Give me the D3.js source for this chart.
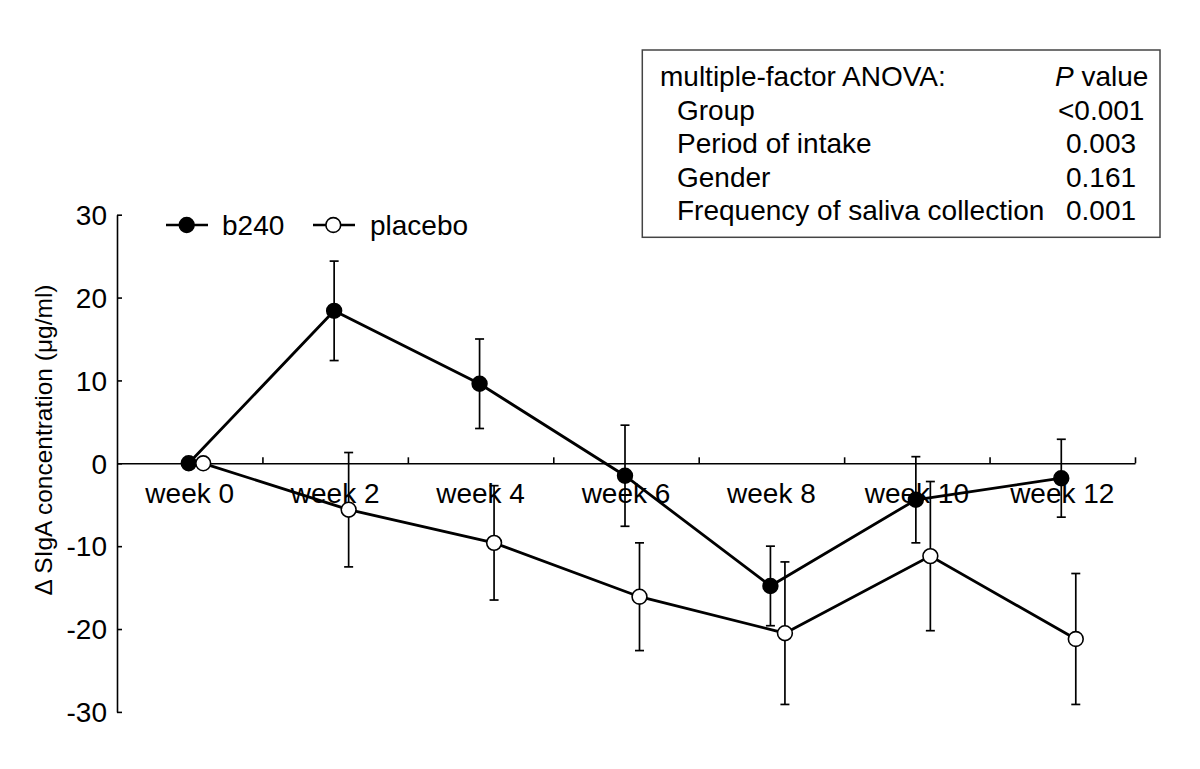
<!DOCTYPE html>
<html>
<head>
<meta charset="utf-8">
<script src="https://cdn.jsdelivr.net/npm/d3@7"></script>
<style>
  html, body { margin: 0; padding: 0; background: #fff; }
  svg { display: block; font-family: "Liberation Sans", Arial, sans-serif; }
</style>
</head>
<body>
<svg id="chart" width="1200" height="769"></svg>
<script>
// ---- data ----
const weeks = ["week 0", "week 2", "week 4", "week 6", "week 8", "week 10", "week 12"];
const b240Mean = [0, 18.4, 9.6, -1.5, -14.8, -4.4, -1.8];
const b240SE = [0, 6.0, 5.4, 6.1, 4.8, 5.2, 4.7];
const placeboMean = [0, -5.6, -9.6, -16.1, -20.5, -11.2, -21.2];
const placeboSE = [0, 6.9, 6.9, 6.5, 8.6, 9.0, 7.9];
const yTicks = [-30, -20, -10, 0, 10, 20, 30];
const seriesNames = ["b240", "placebo"];
const anovaTitle = "multiple-factor ANOVA:";
const anovaFactors = ["Group", "Period of intake", "Gender", "Frequency of saliva collection"];
const anovaP = ["<0.001", "0.003", "0.161", "0.001"];

// ---- layout ----
const svg = d3.select("#chart");
const x0 = 117, x1 = 1135;
const x = d3.scaleBand().domain(weeks).range([x0, x1]).padding(0);
const xb = d3.scaleLinear().domain([0, weeks.length]).range([x0, x1]);
const y = d3.scaleLinear().domain([-30, 30]).range([711.9, 214.7]);
const FS = 28;

const series = [
  { name: seriesNames[0], mean: b240Mean, se: b240SE, fill: "#000", offset: -1 },
  { name: seriesNames[1], mean: placeboMean, se: placeboSE, fill: "#fff", offset: 13.5 }
];

// y axis
const yAxis = svg.append("g")
  .attr("transform", `translate(${x0},0)`)
  .call(d3.axisLeft(y).tickValues(yTicks).tickSizeInner(-5).tickSizeOuter(0).tickPadding(10).tickFormat(d => String(d)));
yAxis.select(".domain").attr("stroke", "#000").attr("stroke-width", 1.6);
yAxis.selectAll(".tick line").attr("stroke", "#000").attr("stroke-width", 1.6);
yAxis.selectAll(".tick text").attr("font-size", FS).attr("fill", "#000")
  .attr("font-family", "Liberation Sans, Arial, sans-serif").attr("dy", "0.35em");

// x axis at y=0 : labels
const xAxisLab = svg.append("g")
  .attr("transform", `translate(0,${y(0)})`)
  .call(d3.axisBottom(x).tickSize(0).tickPadding(20));
xAxisLab.select(".domain").remove();
xAxisLab.selectAll(".tick text").attr("font-size", FS).attr("fill", "#000")
  .attr("font-family", "Liberation Sans, Arial, sans-serif");

// x axis line + boundary ticks (upward)
const xAxisTicks = svg.append("g")
  .attr("transform", `translate(0,${y(0)})`)
  .call(d3.axisBottom(xb).tickValues(d3.range(1, weeks.length + 1)).tickSizeInner(-6).tickSizeOuter(0).tickFormat(""));
xAxisTicks.select(".domain").attr("stroke", "#000").attr("stroke-width", 1.6);
xAxisTicks.selectAll(".tick line").attr("stroke", "#000").attr("stroke-width", 1.6);

// y label
svg.append("text")
  .attr("transform", `translate(52,440) rotate(-90)`)
  .attr("text-anchor", "middle")
  .attr("font-size", 24.5)
  .attr("fill", "#000")
  .text("\u0394 SIgA concentration (\u03bcg/ml)");

const px = (s, i) => x(weeks[i]) + x.bandwidth() / 2 + s.offset;

// error bars
series.forEach(s => {
  const g = svg.append("g").attr("stroke", "#000").attr("stroke-width", 1.7).attr("fill", "none");
  s.mean.forEach((m, i) => {
    if (!s.se[i]) return;
    const cx = px(s, i), yt = y(m + s.se[i]), yb = y(m - s.se[i]);
    g.append("line").attr("x1", cx).attr("x2", cx).attr("y1", yt).attr("y2", yb);
    g.append("line").attr("x1", cx - 4.5).attr("x2", cx + 4.5).attr("y1", yt).attr("y2", yt);
    g.append("line").attr("x1", cx - 4.5).attr("x2", cx + 4.5).attr("y1", yb).attr("y2", yb);
  });
});

// lines
series.forEach(s => {
  const line = d3.line().x((d, i) => px(s, i)).y(d => y(d));
  svg.append("path").datum(s.mean)
    .attr("d", line).attr("fill", "none").attr("stroke", "#000").attr("stroke-width", 2.8);
});

// markers
series.forEach(s => {
  svg.append("g").selectAll("circle").data(s.mean).join("circle")
    .attr("cx", (d, i) => px(s, i)).attr("cy", d => y(d))
    .attr("r", 7.4).attr("fill", s.fill).attr("stroke", "#000").attr("stroke-width", 1.6);
});

// legend
const legendItems = [
  { s: series[0], lx: 166, cx: 186.7, tx: 222 },
  { s: series[1], lx: 313, cx: 333.3, tx: 370 }
];
const ly = 225;
legendItems.forEach(l => {
  svg.append("line").attr("x1", l.lx).attr("x2", l.lx + 42).attr("y1", ly).attr("y2", ly)
    .attr("stroke", "#000").attr("stroke-width", 2.5);
  svg.append("circle").attr("cx", l.cx).attr("cy", ly).attr("r", 7.4)
    .attr("fill", l.s.fill).attr("stroke", "#000").attr("stroke-width", 1.6);
  svg.append("text").attr("x", l.tx).attr("y", ly).attr("dy", "0.35em")
    .attr("font-size", FS).attr("fill", "#000").text(l.s.name);
});

// ANOVA box
svg.append("rect").attr("x", 642.3).attr("y", 50).attr("width", 517.7).attr("height", 187.3)
  .attr("fill", "#fff").attr("stroke", "#444").attr("stroke-width", 1.5);
const rowY = i => 86 + i * 33.6;
svg.append("text").attr("x", 660).attr("y", rowY(0)).attr("font-size", FS).attr("fill", "#000").text(anovaTitle);
const pv = svg.append("text").attr("x", 1055).attr("y", rowY(0)).attr("font-size", FS).attr("fill", "#000");
pv.append("tspan").attr("font-style", "italic").text("P");
pv.append("tspan").text(" value");
anovaFactors.forEach((f, i) => {
  svg.append("text").attr("x", 677).attr("y", rowY(i + 1)).attr("font-size", FS).attr("fill", "#000").text(f);
  svg.append("text").attr("x", anovaP[i].startsWith("<") ? 1058 : 1066).attr("y", rowY(i + 1))
    .attr("font-size", FS).attr("fill", "#000").text(anovaP[i]);
});
</script>
</body>
</html>
